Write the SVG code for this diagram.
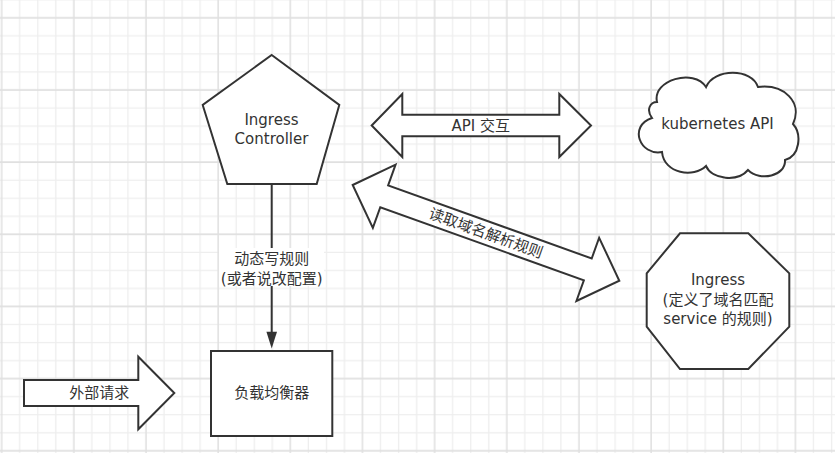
<svg xmlns="http://www.w3.org/2000/svg" width="835" height="453" viewBox="0 0 835 453">
<defs>
<pattern id="grid" patternUnits="userSpaceOnUse" x="-7.32" y="8.82" width="72.16" height="72.16">
<path d="M27.06 0V72.16M45.1 0V72.16M63.14 0V72.16M0 27.06H72.16M0 45.1H72.16M0 63.14H72.16" stroke="#eeeeee" stroke-width="1.3" fill="none"/>
<path d="M9.02 0V72.16M0 9.02H72.16" stroke="#e0e0e0" stroke-width="1.5" fill="none"/>
</pattern>
</defs>
<style>
.shape{fill:#ffffff;stroke:#333333;stroke-width:2;stroke-linejoin:miter}
.t{font-family:"DejaVu Sans","Noto Sans CJK SC",sans-serif;font-size:15px;fill:#333333;text-anchor:middle}
.line{stroke:#333333;stroke-width:2;fill:none}
</style>
<rect width="835" height="453" fill="#ffffff"/>
<rect width="835" height="453" fill="url(#grid)"/>

<g id="ingress-controller">
<polygon class="shape" points="271.7,55 339.3,105 316.7,184 227.3,184 202.7,105"/>
<text class="t" x="271.5" y="125">Ingress</text>
<text class="t" x="271.5" y="144">Controller</text>
</g>

<g id="kubernetes-api">
<path class="shape" d="M657,102 C652,80 694,68 706,87 C714,68 752,68 758,87 C784,84 803,102 793,124 C802,134 800,156 785,160 C786,176 760,182 748,170 C738,182 712,180 706,166 C694,178 664,174 662,152 C640,156 628,126 652,118 C646,110 650,102 657,102 Z"/>
<text class="t" x="717.5" y="128.5">kubernetes API</text>
</g>

<g id="ingress">
<polygon class="shape" points="680,233.3 748.3,233.3 789.3,273.3 789.3,326.7 748.3,369 680,369 646.7,326.7 646.7,273.3"/>
<text class="t" x="718" y="285">Ingress</text>
<text class="t" x="718" y="304.5">(定义了域名匹配</text>
<text class="t" x="718" y="324">service 的规则)</text>
</g>

<g id="load-balancer">
<rect class="shape" x="211" y="351" width="121.3" height="85"/>
<text class="t" x="271.7" y="398">负载均衡器</text>
</g>

<g id="connectors">
<g id="api-arrow">
<polygon class="shape" points="371.7,125.5 402.3,94 402.3,114.7 559.3,114.7 559.3,94 591,125.5 559.3,157 559.3,136.3 402.3,136.3 402.3,157"/>
<text class="t" x="480.7" y="130.5">API 交互</text>
</g>
<g id="read-arrow" transform="translate(486,232.85) rotate(19.75)">
<polygon class="shape" points="-141.65,0 -108.15,-33.6 -108.15,-11.6 108.15,-11.6 108.15,-33.6 141.65,0 108.15,33.6 108.15,11.6 -108.15,11.6 -108.15,33.6"/>
<text class="t" x="0" y="5.5">读取域名解析规则</text>
</g>
<g id="external-arrow">
<polygon class="shape" points="24,380 138.3,380 138.3,356.7 174.3,393 138.3,429.3 138.3,406 24,406"/>
<text class="t" x="99.3" y="398">外部请求</text>
</g>
<g id="write-rule">
<line class="line" x1="271.7" y1="184" x2="271.7" y2="333"/>
<polygon points="266.4,331.7 277,331.7 271.7,348.5" fill="#333333"/>
<rect x="219" y="248" width="105" height="38" fill="#ffffff"/>
<text class="t" x="271.7" y="263.5">动态写规则</text>
<text class="t" x="271.7" y="283.5">(或者说改配置)</text>
</g>
</g>
</svg>
